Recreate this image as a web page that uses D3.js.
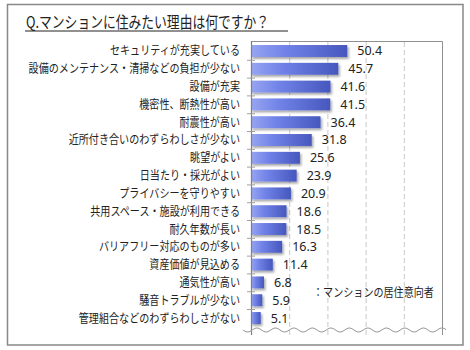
<!DOCTYPE html>
<html><head><meta charset="utf-8">
<script src="https://cdn.jsdelivr.net/npm/d3@7"></script>
<style>body{margin:0;background:#fff}svg{display:block}</style>
</head><body>
<script>
const categories = ["セキュリティが充実している","設備のメンテナンス・清掃などの負担が少ない","設備が充実","機密性、断熱性が高い","耐震性が高い","近所付き合いのわずらわしさが少ない","眺望がよい","日当たり・採光がよい","プライバシーを守りやすい","共用スペース・施設が利用できる","耐久年数が長い","バリアフリー対応のものが多い","資産価値が見込める","通気性が高い","騒音トラブルが少ない","管理組合などのわずらわしさがない"];
const values = [50.4,45.7,41.6,41.5,36.4,31.8,25.6,23.9,20.9,18.6,18.5,16.3,11.4,6.8,5.9,5.1];
const xTicks = [0,20,40,60,80,100];
const title = "Q.マンションに住みたい理由は何ですか？";
const legendText = "：マンションの居住意向者";

const W=470,H=350;
const svg=d3.select("body").append("svg").attr("width",W).attr("height",H);
const font="'Noto Sans CJK JP','Noto Sans',sans-serif";

const defs=svg.append("defs");
const g=defs.append("linearGradient").attr("id","bg").attr("x1","0").attr("x2","1").attr("y1","0").attr("y2","0");
g.append("stop").attr("offset","0").attr("stop-color","#97a5f2");
g.append("stop").attr("offset","0.35").attr("stop-color","#7183e8");
g.append("stop").attr("offset","1").attr("stop-color","#4657bd");
const f=defs.append("filter").attr("id","sh").attr("x","-20%").attr("y","-30%").attr("width","150%").attr("height","180%");
f.append("feDropShadow").attr("dx",1.5).attr("dy",2).attr("stdDeviation",1).attr("flood-color","#000").attr("flood-opacity",0.35);

// outer frame
svg.append("rect").attr("x",7.5).attr("y",4.5).attr("width",455.5).attr("height",340.5).attr("fill","#fff").attr("stroke","#888").attr("stroke-width",1.5);

const x=d3.scaleLinear().domain([0,100]).range([251,442]);
const y=d3.scaleBand().domain(categories).range([42,327]).paddingInner(0.33).paddingOuter(0.17);

// gridlines
svg.append("g").selectAll("line").data(xTicks.filter(t=>t>0&&t<100)).join("line")
 .attr("x1",d=>x(d)+0.5).attr("x2",d=>x(d)+0.5).attr("y1",42).attr("y2",335)
 .attr("stroke","#c8c8c8").attr("stroke-dasharray","5,3");
// top & right border
svg.append("path").attr("d",`M${x(0)},41.5H${x(100)+0.5}V335`).attr("fill","none").attr("stroke","#909090").attr("stroke-width",1);

// bars
svg.append("g").selectAll("rect").data(values).join("rect")
 .attr("x",x(0)).attr("y",(d,i)=>y(categories[i])).attr("width",d=>x(d)-x(0)).attr("height",y.bandwidth())
 .attr("fill","url(#bg)").attr("filter","url(#sh)");

// left axis
svg.append("line").attr("x1",x(0)+0.5).attr("x2",x(0)+0.5).attr("y1",41).attr("y2",335).attr("stroke","#808080").attr("stroke-width",1.2);
const step=y.step();
svg.append("g").selectAll("line").data(d3.range(1,16)).join("line")
 .attr("x1",x(0)-4).attr("x2",x(0)+4).attr("y1",i=>42+i*step+0.5).attr("y2",i=>42+i*step+0.5).attr("stroke","#a0a0a0");

// wave
const wave=[];
for(let px=243;px<=446;px+=1){wave.push([px,330+2*Math.sin((px-243)/18.5*2*Math.PI)]);}
svg.append("path").attr("d",d3.line()(wave)).attr("fill","none").attr("stroke","#999").attr("stroke-width",1);

// category labels
svg.append("g").selectAll("text").data(categories).join("text")
 .attr("transform",d=>`translate(240,${y(d)+y.bandwidth()/2+4.5}) scale(0.84,1)`)
 .attr("text-anchor","end").attr("font-family",font).attr("font-size",12).attr("fill","#222").text(d=>d);

// value labels
svg.append("g").selectAll("text").data(values).join("text")
 .attr("x",d=>x(d)+10).attr("y",(d,i)=>y(categories[i])+y.bandwidth()/2+4.5)
 .attr("font-family","'Noto Sans',sans-serif").attr("font-size",12.5).attr("fill","#222").text(d=>d.toFixed(1));

// title
svg.append("text").attr("transform","translate(26,28) scale(0.8,1)").attr("font-family",font).attr("font-size",16).attr("fill","#222").text(title);
svg.append("line").attr("x1",25).attr("x2",288).attr("y1",31).attr("y2",31).attr("stroke","#222").attr("stroke-width",1);

// legend
svg.append("text").attr("transform","translate(313,297) scale(0.84,1)").attr("font-family",font).attr("font-size",12).attr("fill","#222").text(legendText);
</script>
</body></html>
